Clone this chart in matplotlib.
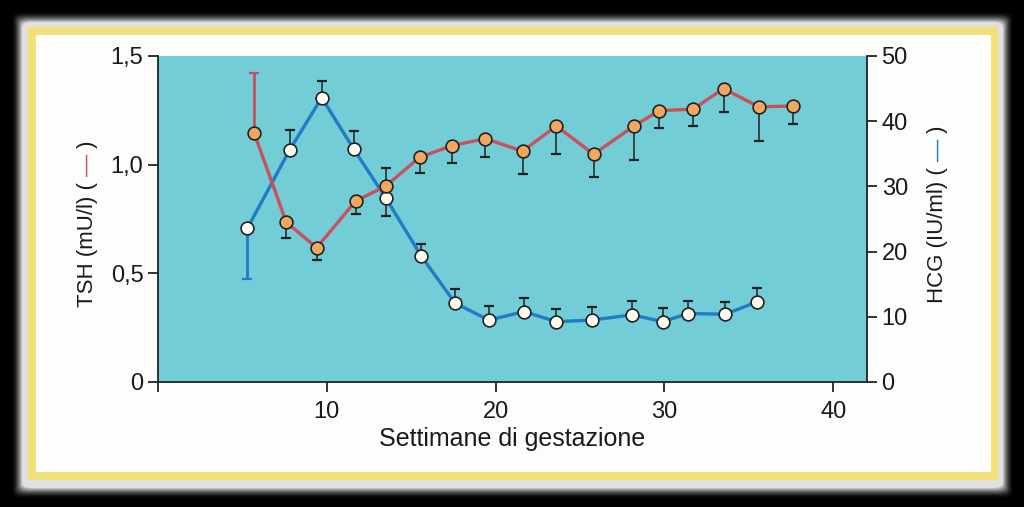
import matplotlib
matplotlib.use("Agg")
import matplotlib.pyplot as plt
from matplotlib.patches import Rectangle, FancyBboxPatch
import numpy as np

# ---------------- data ----------------
weeks_tsh = [5.7, 7.6, 9.4, 11.7, 13.5, 15.5, 17.4, 19.4, 21.6, 23.6, 25.8, 28.2, 29.7, 31.7, 33.5, 35.6, 37.6]
tsh = [1.145, 0.735, 0.618, 0.832, 0.902, 1.034, 1.087, 1.120, 1.062, 1.178, 1.048, 1.178, 1.249, 1.255, 1.350, 1.266, 1.270]
tsh_err_lo = [0, 0.074, 0.057, 0.060, 0, 0.074, 0.081, 0.085, 0.105, 0.127, 0.103, 0.156, 0.081, 0.077, 0.107, 0.158, 0.083]
tsh_err_hi = [0.276, 0, 0, 0, 0.084, 0, 0, 0, 0, 0, 0, 0, 0, 0, 0, 0, 0]

weeks_hcg = [5.3, 7.8, 9.7, 11.6, 13.5, 15.6, 17.6, 19.6, 21.7, 23.6, 25.7, 28.1, 29.9, 31.4, 33.6, 35.5]
hcg = [23.6, 35.6, 43.6, 35.7, 28.2, 19.3, 12.1, 9.5, 10.8, 9.25, 9.5, 10.3, 9.25, 10.5, 10.4, 12.3]
hcg_err_lo = [7.8, 0, 0, 0, 2.8, 0, 0, 0, 0, 0, 0, 0, 0, 0, 0, 0]
hcg_err_hi = [0, 3.0, 2.6, 2.8, 0, 1.8, 2.1, 2.15, 2.05, 1.95, 2.05, 2.05, 2.05, 1.9, 1.85, 2.05]

x_ticks = [0, 10, 20, 30, 40]
x_ticklabels = ["", "10", "20", "30", "40"]
tsh_ticks = [0, 0.5, 1.0, 1.5]
tsh_ticklabels = ["0", "0,5", "1,0", "1,5"]
hcg_ticks = [0, 10, 20, 30, 40, 50]
hcg_ticklabels = ["0", "10", "20", "30", "40", "50"]

xlabel = "Settimane di gestazione"
tsh_label = "TSH (mU/l) ( "
hcg_label = "HCG (IU/ml) ( "

# ---------------- style ----------------
plt.rcParams["font.family"] = ["Liberation Sans", "DejaVu Sans"]

W, H = 1024, 507
RED = "#c9505c"
BLUE = "#1f7cc6"
ORANGE = "#f2a760"
CYAN = "#72cdd6"
DARK = "#222222"
YELLOW = "#f2e07a"

fig = plt.figure(figsize=(W / 100, H / 100), dpi=100, facecolor="black")

def px_rect(x0, y0, x1, y1, **kw):
    # pixel coords measured from top-left
    return Rectangle((x0 / W, 1 - y1 / H), (x1 - x0) / W, (y1 - y0) / H,
                     transform=fig.transFigure, **kw)

# soft frame: dark outside, narrow light band next to the yellow border
n = 12
for i in range(n):
    t = i / (n - 1)
    g = 0.02 + 0.86 * t ** 1.6
    d = 10 - i * 10 / (n - 1)
    x0, y0, x1, y1 = 22 - d, 22 - d, 1003 + d, 488 + d
    fig.patches.append(FancyBboxPatch((x0 / W, 1 - y1 / H), (x1 - x0) / W, (y1 - y0) / H,
                                      boxstyle="round,pad=0,rounding_size=0.01",
                                      transform=fig.transFigure, facecolor=(g, g, g),
                                      edgecolor="none", zorder=-10 + i * 0.01))
fig.patches.append(px_rect(28, 27, 998, 480, facecolor=YELLOW, edgecolor="none", zorder=-5))
fig.patches.append(px_rect(36, 35, 991, 472, facecolor="#fdfdfb", edgecolor="none", zorder=-4))

# axes
ax = fig.add_axes([158 / W, 1 - 382 / H, (867 - 158) / W, (382 - 56) / H])
ax.set_facecolor(CYAN)
axt = ax.twinx()
axt.patch.set_visible(False)

ax.set_xlim(0, 42)
ax.set_ylim(0, 50)
axt.set_ylim(0, 1.5)

ax.spines["top"].set_visible(False)
for sp in axt.spines.values():
    sp.set_visible(False)
for sp in ["left", "right", "bottom"]:
    ax.spines[sp].set_color(DARK)
    ax.spines[sp].set_linewidth(1.3)

# HCG on right, TSH on left
ax.yaxis.tick_right()
axt.yaxis.tick_left()

tick_kw = dict(direction="out", length=7.5, width=1.3, color=DARK, labelsize=17, labelcolor="#1a1a1a")
ax.tick_params(axis="y", pad=3, **tick_kw)
axt.tick_params(axis="y", pad=3, **tick_kw)
ax.tick_params(axis="x", pad=6, **tick_kw)

ax.set_xticks(x_ticks)
ax.set_xticklabels(x_ticklabels)
ax.set_yticks(hcg_ticks)
ax.set_yticklabels(hcg_ticklabels)
axt.set_yticks(tsh_ticks)
axt.set_yticklabels(tsh_ticklabels)

ax.set_xlabel(xlabel, fontsize=18, color="#1a1a1a", labelpad=3)

# ---- HCG series (below) ----
eb = ax.errorbar(weeks_hcg[:1], hcg[:1], yerr=[hcg_err_lo[:1], hcg_err_hi[:1]], fmt="none",
                 ecolor=BLUE, elinewidth=2.0, capsize=3.3, capthick=1.6, zorder=2)
for c in eb[1]:
    c.set_color(DARK)
ax.errorbar(weeks_hcg[1:], hcg[1:], yerr=[hcg_err_lo[1:], hcg_err_hi[1:]], fmt="none",
            ecolor=DARK, elinewidth=1.1, capsize=3.3, capthick=1.6, zorder=2)
ax.plot(weeks_hcg, hcg, color=BLUE, lw=2.4, zorder=3, solid_capstyle="round")
ax.plot(weeks_hcg, hcg, ls="none", marker="o", ms=9.2, mfc="#fffdf2", mec=DARK, mew=1.2, zorder=4)

# ---- TSH series (above) ----
eb = axt.errorbar(weeks_tsh[:1], tsh[:1], yerr=[tsh_err_lo[:1], tsh_err_hi[:1]], fmt="none",
                  ecolor=RED, elinewidth=2.0, capsize=3.3, capthick=1.6, zorder=2)
for c in eb[1]:
    c.set_color(DARK)
axt.errorbar(weeks_tsh[1:], tsh[1:], yerr=[tsh_err_lo[1:], tsh_err_hi[1:]], fmt="none",
             ecolor=DARK, elinewidth=1.1, capsize=3.3, capthick=1.6, zorder=2)
axt.plot(weeks_tsh, tsh, color=RED, lw=2.4, zorder=3, solid_capstyle="round")
axt.plot(weeks_tsh, tsh, ls="none", marker="o", ms=9.2, mfc=ORANGE, mec=DARK, mew=1.2, zorder=4)

# ---- rotated y labels with coloured dash ----
fig.canvas.draw()
renderer = fig.canvas.get_renderer()

def stacked_label(x_px, y_bottom_px, pieces, size=16):
    y = H - y_bottom_px
    for s, c in pieces:
        t = fig.text(x_px / W, y / H, s, rotation=90, rotation_mode="anchor",
                     ha="left", va="center", color=c, fontsize=size)
        bb = t.get_window_extent(renderer)
        y = bb.y1

stacked_label(87, 307, [(tsh_label, "#1a1a1a"), ("—", RED), (" )", "#1a1a1a")])
stacked_label(938, 303, [(hcg_label, "#1a1a1a"), ("—", BLUE), (" )", "#1a1a1a")])

fig.savefig("out.png", dpi=100, facecolor="black")
